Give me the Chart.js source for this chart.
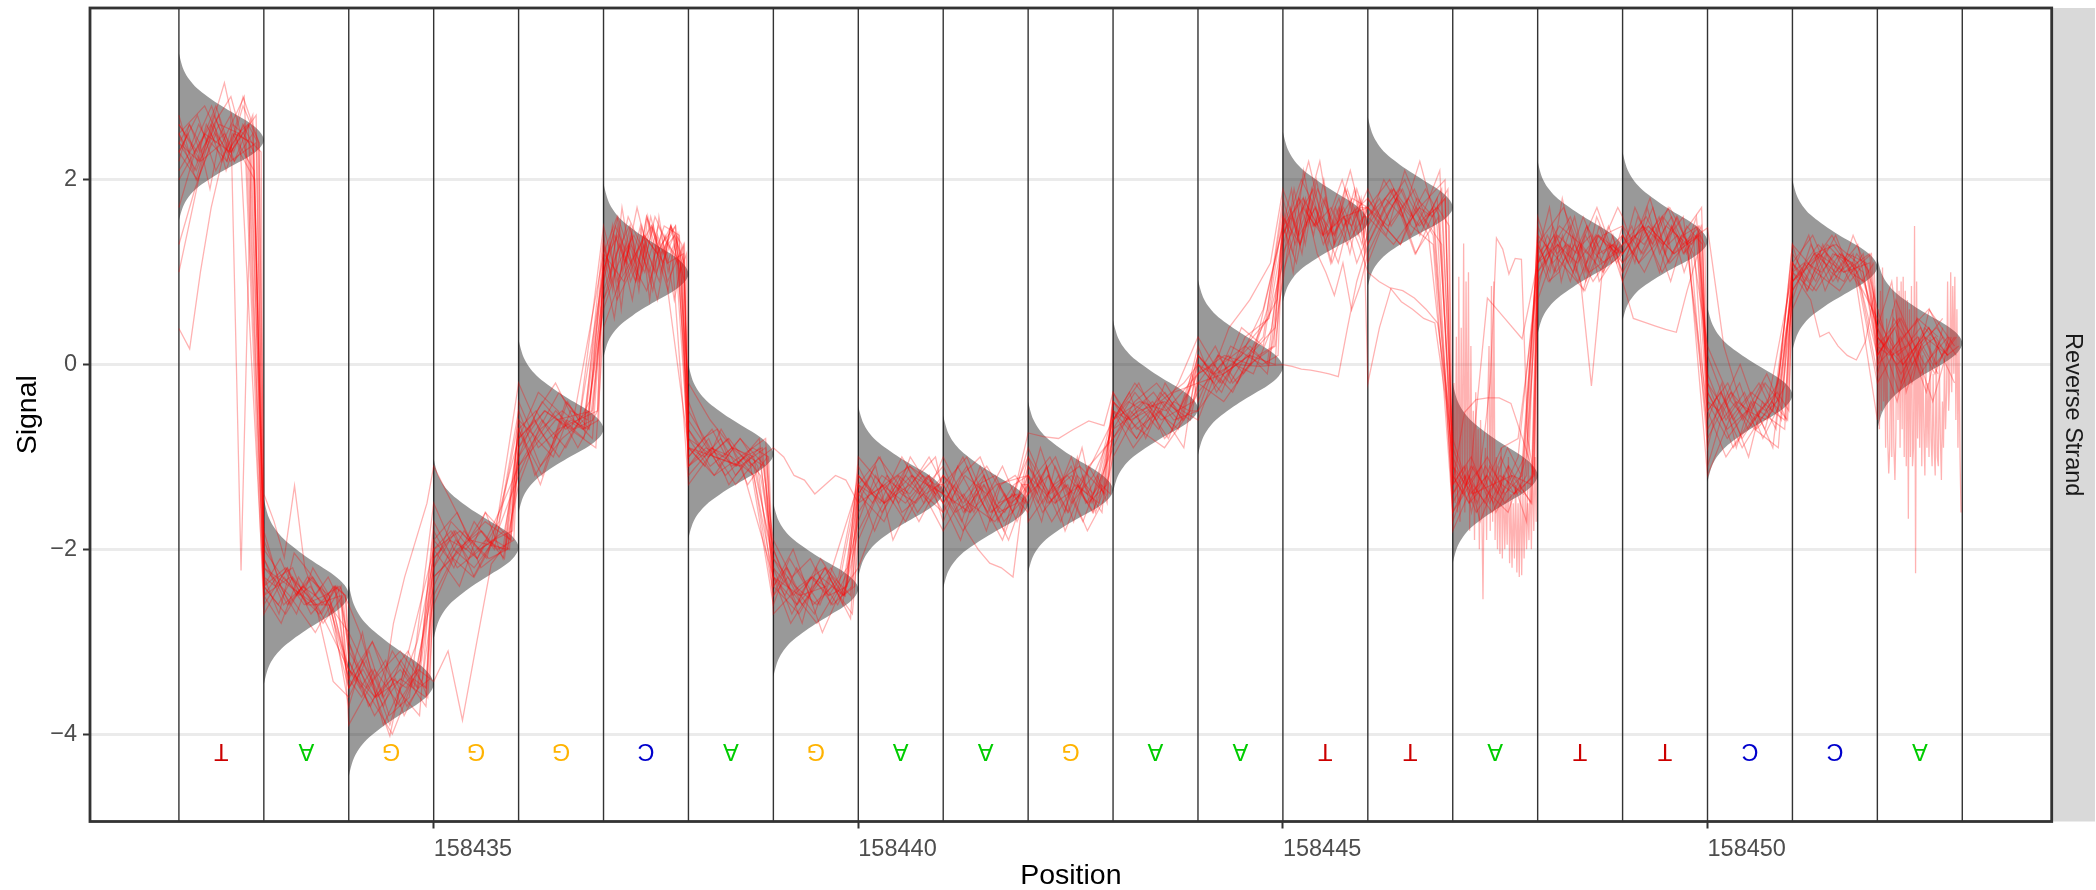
<!DOCTYPE html>
<html>
<head>
<meta charset="utf-8">
<script src="https://cdn.jsdelivr.net/npm/chart.js@4"></script>
<style>
  html, body { margin: 0; background: #fff; }
  canvas { display: block; }
</style>
</head>
<body>
<canvas id="signalChart" width="2096" height="890"></canvas>
<script>
const basePositions = [158432,158433,158434,158435,158436,158437,158438,158439,158440,158441,158442,158443,158444,158445,158446,158447,158448,158449,158450,158451,158452];
const baseLetters = ['T','A','G','G','G','C','A','G','A','A','G','A','A','T','T','A','T','T','C','C','A'];
const dividerPositions = [158432,158433,158434,158435,158436,158437,158438,158439,158440,158441,158442,158443,158444,158445,158446,158447,158448,158449,158450,158451,158452,158453];
const xTickValues = [158435,158440,158445,158450];
const yTickValues = [-4,-2,0,2];

// grey curve of each base: where it peaks and where its two tips end
const densityPeak = [2.43,-2.49,-3.46,-1.98,-0.7,0.98,-0.97,-2.43,-1.38,-1.51,-1.36,-0.48,-0.03,1.55,1.7,-1.2,1.25,1.33,-0.33,1.06,0.23];
const densityTop = [3.37,-1.45,-2.38,-1.02,0.27,1.96,0.0,-1.5,-0.45,-0.55,-0.4,0.48,0.92,2.52,2.68,-0.2,2.2,2.3,0.62,2.0,1.15];
const densityBottom = [1.56,-3.46,-4.46,-2.97,-1.6,0.08,-1.88,-3.38,-2.3,-2.42,-2.25,-1.38,-0.98,0.68,0.85,-2.15,0.33,0.48,-1.27,0.15,-0.7];
// width of the curve, going from the peak out to a tip in tenths
const densityWidths = [1,0.95,0.83,0.66,0.49,0.34,0.21,0.12,0.06,0.025,0];

// one row per read, one inner list per base
const read01 = [[2.0,2.5,2.3,2.7],[-2.2,-2.4,-2.6,-2.5],[-3.1,-3.6,-3.3,-3.7],[-2.3,-1.9,-2.0],[-1.1,-0.6,-0.5],[0.7,1.3,0.9,1.5,1.1,1.2],[-0.8,-1.0,-1.1,-0.9],[-2.1,-2.5,-2.3,-2.6,-2.4],[-1.5,-1.3,-1.1,-1.4],[-1.2,-1.5,-1.7,-1.4],[-1.1,-1.4,-1.2,-1.5,-1.3],[-0.7,-0.5,-0.4,-0.6],[-0.2,-0.1,0.1,0.0],[1.4,1.8,1.5,1.7,1.3,1.6],[1.6,1.9,1.5,1.8],[-1.1,-1.4,-1.3,-1.2,-1.5],[1.0,1.3,1.1,1.4,1.2],[1.3,1.5,1.2,1.4],[-0.3,-0.7,-0.5,-0.6,-0.2],[0.9,1.2,1.0,1.1],[0.3,0.0,0.2,0.4,0.1]];
const read02 = [[2.6,2.3,2.8,2.2,2.5],[-2.0,-2.3,-2.5,-2.7,-2.4],[-3.0,-3.5,-3.2,-3.8,-3.4],[-2.5,-2.0,-1.8,-2.1],[-0.9,-0.4,-0.7,-0.5],[0.9,1.5,0.6,1.4,0.8,1.6,1.0,1.3,0.7,1.2],[-0.6,-0.9,-1.2,-1.0,-0.9],[-2.2,-2.7,-2.3,-2.5,-2.2],[-1.1,-1.6,-1.2,-1.5],[-1.3,-1.7,-1.1,-1.6,-1.5],[-1.0,-1.5,-1.2,-1.7,-1.1,-1.4],[-0.4,-0.8,-0.3,-0.6],[-0.3,0.0,0.2,0.5],[1.1,1.9,1.3,2.0,1.4,1.7,1.2,1.8],[1.3,1.7,2.0,1.5,1.9],[-1.0,-1.6,-1.2,-1.4],[0.8,1.5,1.1,1.6,1.2,1.3],[1.0,1.6,1.3,1.7,1.2,1.4],[-0.1,-0.6,-0.3,-0.8,-0.4],[0.7,1.3,0.9,1.2,1.1],[0.6,-0.2,0.4,0.1]];
const read03 = [[0.39,0.17,1.0,1.7,2.2,2.5,2.3,2.1],[-1.9,-2.3,-2.2,-2.6,-2.4,-2.7],[-2.9,-3.3,-3.7,-3.2,-3.5],[-2.2,-1.7,-1.9,-1.6,-2.1],[-1.3,-0.8,-1.0,-0.5,-0.6],[1.1,0.5,1.3,0.9,1.6,1.2,0.8,1.4],[-0.4,-0.8,-0.7,-1.1,-1.0,-1.2],[-2.0,-2.4,-2.8,-2.2,-2.6,-2.3],[-1.7,-1.2,-1.5,-1.0,-1.3],[-1.6,-1.1,-1.4,-1.8,-1.3,-1.2],[-1.4,-0.9,-1.3,-1.6,-1.0,-1.5,-1.2],[-0.9,-0.5,-0.7,-0.2,-0.5],[-0.6,-0.1,-0.3,0.1,-0.1],[0.9,1.6,1.2,1.9,1.5,1.1,1.7,1.4,1.8],[1.1,1.5,1.8,1.4,1.7,2.1],[-0.8,-1.3,-1.1,-1.6,-1.3,-1.0],[1.4,0.9,1.2,1.6,1.0,1.5,1.1],[1.5,1.1,1.7,1.2,1.5,1.0,1.4],[-0.6,-0.2,-0.9,-0.4,-0.7,-0.1],[1.3,0.8,1.1,1.4,1.0,0.9],[0.4,0.9,-0.3,0.2,-0.1,0.3]];
const read04 = [[2.2,2.6,2.4,1.9,2.5,2.7,-2.23,2.3],[-2.4,-2.1,-2.5,-2.3,-2.6],[-3.4,-2.9,-3.6,-4.02,-3.3,-3.5],[-1.8,-2.2,-1.7,-2.0],[-0.6,-1.2,-0.9,-0.4,-0.7],[1.4,0.8,1.7,1.1,1.5,0.7,1.6,1.0,1.4],[-1.1,-0.8,-1.3,-1.0],[-2.6,-2.2,-2.5,-2.7,-2.3,-2.5],[-1.3,-1.8,-1.4,-1.1,-1.5],[-1.0,-1.3,-1.6,-1.2,-1.7,-1.4],[-1.6,-1.2,-1.0,-1.4,-1.7,-1.3],[-0.6,-0.3,-0.8,-0.4,-0.6],[0.0,-0.2,0.2,0.1,0.3],[1.7,1.2,2.1,1.5,1.8,1.3,1.9,1.6],[1.9,1.5,1.3,1.8,1.6],[-1.4,-1.1,-1.7,-1.3,-0.9,-1.2],[1.2,1.7,0.9,1.4,1.0,1.6,1.3],[1.1,1.4,1.8,1.3,1.6,1.2],[-0.9,-0.3,-0.6,-1.0,-0.4,-0.7],[1.0,1.4,0.8,1.2,1.0],[-0.1,0.5,0.2,-0.3,0.4]];
const read05 = [[1.3,1.9,2.4,2.2,2.8,2.4],[-1.4,-1.7,-2.09,-1.31,-2.2,-2.5,-2.6,-2.4,-2.5],[-3.0,-3.7,-3.4,-3.1,-3.6],[-2.6,-2.1,-2.3,-1.9,-1.8],[-0.8,-0.3,-0.5,-0.9,-0.5],[1.2,1.6,0.9,1.3,0.7,1.5,1.1],[-0.7,-1.0,-0.8,-1.3,-1.0],[-2.4,-2.0,-2.6,-2.4,-2.7],[-1.9,-1.4,-1.2,-1.6,-1.3],[-1.4,-1.0,-1.5,-1.9,-1.3],[-1.3,-1.7,-1.1,-1.4,-0.9,-1.6,-1.2],[-1.0,-0.6,-0.4,-0.7,-0.1],[-0.4,0.1,-0.2,0.3,0.7],[1.6,1.0,1.8,1.4,2.0,1.3,1.5,1.9,1.2],[1.5,2.0,1.7,1.2,1.6,1.9],[-1.7,-1.2,-1.5,-1.0,-1.4,-1.2],[0.7,1.2,1.5,0.9,1.3,1.7],[1.6,1.1,1.4,0.9,1.5,1.3],[-1.1,-0.5,-0.2,-0.7,-0.4,-0.6],[0.6,1.1,1.4,1.0,1.2],[0.2,-0.4,0.5,0.0,0.3]];
const read06 = [[2.7,2.1,2.5,3.05,2.3,2.0],[-2.3,-2.7,-2.04,-2.25,-2.5,-2.4],[-2.6,-2.9,-3.3,-3.6,-2.8,-2.3,-1.9,-1.5],[-1.1,-1.5,-1.9,-2.1,-2.0],[-1.0,-0.5,-0.2,-0.6,-0.8],[0.9,1.4,1.1,1.7,1.2,0.9,1.5,1.3],[-1.2,-0.9,-1.1,-0.8],[-1.9,-2.3,-2.1,-2.5,-2.4],[-1.0,-1.3,-1.7,-1.2],[-1.7,-1.2,-1.0,-1.5,-1.4],[-1.5,-1.1,-1.8,-1.3,-1.6],[-0.3,-0.7,-0.5,-0.8,-0.3],[0.2,-0.3,0.0,-0.1,0.4],[1.3,1.7,2.2,1.6,1.4,1.9,1.5],[1.7,1.4,2.1,1.6,1.3],[-1.3,-1.0,-1.5,-1.1,-1.7],[1.6,1.1,1.3,0.8,1.4,1.2],[0.9,1.3,1.7,1.1,1.4,1.5],[-0.5,-1.0,-0.7,-0.2,-0.6],[1.1,0.8,1.3,0.9,1.4,1.0],[0.0,0.7,0.2,-0.4,0.3]];
const read07 = [[2.5,2.0,2.7,2.3,2.6],[-2.5,-2.8,-2.3,-2.6,-3.43],[-3.6,-3.2,-3.9,-3.5,-3.3],[-3.43,-3.1,-3.85,-3.0,-2.16,-1.95],[-0.7,-1.3,-0.6,-0.8],[0.6,1.0,1.6,1.3,0.8,1.4,1.1],[-0.5,-0.9,-1.0,-1.2],[-2.3,-2.8,-2.5,-2.2,-2.6],[-1.4,-1.1,-1.9,-1.5,-1.2],[-1.5,-1.9,-1.3,-1.2,-1.6],[-1.2,-1.6,-1.4,-1.0,-1.5,-1.3],[-0.8,-0.4,-0.2,-0.5],[-0.1,0.2,-0.2,0.0,0.6],[1.8,1.3,1.7,2.2,1.4,1.6,1.1],[1.4,1.8,1.6,2.2,1.5],[-1.6,-1.3,-1.0,-1.4,-1.2],[1.3,1.0,1.8,1.2,1.5,0.9,1.1],[1.2,1.7,1.4,1.0,1.5,1.2,1.6],[0.1,-0.4,-0.8,-0.5,-0.3],[1.2,0.9,1.3,1.1,0.8],[0.1,0.4,-0.2,0.6,0.2]];
const read08 = [[1.0,1.6,2.2,2.6,2.1,2.5,2.4],[-1.8,-2.4,-2.7,-2.2,-2.5],[-3.7,-3.2,-3.5,-3.9,-3.4,-3.0],[-2.1,-1.8,-2.3,-1.9],[-1.2,-0.7,-0.3,-0.6],[1.0,1.5,1.2,0.9,1.6,1.1,1.4],[-0.9,-1.1,-0.7,-1.0,-1.2],[-2.5,-2.1,-2.4,-2.9,-2.5],[-2.2,-1.6,-1.2,-1.4],[-1.1,-1.6,-1.3,-1.8],[-0.9,-1.3,-1.7,-1.2,-1.4],[-0.5,-0.9,-0.6,-0.3],[-0.2,0.1,0.0,-0.02],[0.0,-0.02,-0.05,-0.06,-0.08,-0.1,-0.13,0.4,0.9],[1.3,1.7,1.9,1.5,1.7],[-1.2,-1.5,-1.1,-1.4,-1.0],[1.1,1.4,0.9,1.5,1.2],[1.4,1.1,1.3,1.6,1.2],[-0.7,-0.4,0.0,-0.5,-0.9],[0.9,1.1,1.3,1.0],[0.5,0.1,0.3,-0.1]];
const read09 = [[1.7,2.3,2.6,2.2,2.9,2.4],[-2.1,-2.6,-2.4,-2.8,-2.5],[-3.2,-3.8,-3.4,-3.6],[-2.0,-2.4,-1.6,-1.9],[-0.4,-0.9,-0.7,-0.6,-0.5],[1.3,0.7,1.0,1.4,1.2,1.5,0.9],[-0.9,-1.2,-0.8,-1.1],[-2.7,-2.4,-2.2,-2.5],[-1.2,-1.5,-1.3,-1.0],[-1.4,-1.8,-1.5,-1.1,-1.6],[-1.1,-1.5,-1.3,-1.8,-1.4],[-0.6,-0.2,-0.8,-0.5],[-0.5,-0.1,0.1,0.4],[1.5,1.1,1.8,1.3,1.6,2.1,1.5],[-0.2,0.4,0.83,0.8,0.72,0.6,0.45,-0.5],[-1.8,-1.3,-1.6,-1.2,-1.3],[1.0,1.4,1.2,1.7,1.1],[1.2,1.5,1.0,1.4,1.7],[-0.4,-0.8,-0.5,-0.1,-0.6],[1.0,0.85,0.7,0.3,0.35,0.2,0.1,0.05,0.25,0.8],[0.0,0.3,0.6,0.2]];
const read10 = [[2.3,2.7,2.1,2.5,2.4],[-2.6,-2.2,-2.7,-2.4],[-3.5,-3.0,-3.7,-3.3],[-1.7,-2.2,-2.0,-1.8],[-1.0,-0.6,-0.9,-0.4],[0.8,1.2,1.5,1.0,1.6,1.3,1.1],[-1.0,-0.7,-1.2,-0.9],[-2.3,-2.6,-2.1,-2.5],[-1.6,-1.2,-1.4,-1.0],[-1.3,-1.0,-1.6,-1.4],[-0.74,-0.78,-0.8,-0.7,-0.61,-0.66],[-0.3,-0.7,-0.5,-0.9],[0.1,-0.2,0.2,0.0],[1.2,1.6,1.9,1.4,1.7,1.3],[1.0,0.9,0.83,0.68,0.6,0.5,0.45,-0.4],[-1.5,-1.1,-1.4,-1.6,-1.0],[1.5,1.0,1.3,0.9,1.2],[1.3,1.6,1.1,1.4],[-0.8,-0.3,-0.6,-0.2],[1.3,1.0,0.8,1.2],[0.4,-0.1,0.3,0.1]];
const read11 = [[2.4,2.1,2.6,2.9,2.2],[-2.4,-2.7,-2.3,-2.5],[-3.3,-3.6,-4.0,-3.4],[-2.4,-1.9,-2.1,-1.7],[-0.5,-1.1,-0.8,-0.6],[1.1,1.4,0.7,1.6,1.2,1.5],[-0.7,-1.1,-0.9,-1.0],[-2.2,-2.5,-2.8,-2.4],[-1.3,-1.0,-1.6,-1.4],[-1.6,-1.2,-1.4,-1.9],[-1.3,-1.0,-1.5,-1.2],[-0.7,-0.3,-0.6,-0.2],[0.3,-0.1,0.1,0.6],[1.5,1.9,1.3,1.6,1.2,1.0,0.75,1.1,0.59,0.85],[1.2,1.6,1.9,1.4,1.8],[-0.9,-1.4,-1.2,-1.5,-1.3],[1.2,0.9,1.0,1.3,0.9,-0.23,1.0,1.4],[0.9,0.5,0.46,0.42,0.38,0.35,0.8,1.2],[-0.2,-0.5,-0.9,-0.6,-0.4],[0.8,1.2,1.0,1.3],[0.2,0.5,-0.1,0.3]];
const read12 = [[2.1,2.4,2.8,2.3,2.6],[-2.7,-2.3,-2.6,-2.5],[-3.5,-3.1,-3.8,-3.6],[-1.5,-2.0,-2.2,-1.9],[-0.2,-0.7,-1.0,-0.6],[1.5,0.9,1.3,1.0,1.5,1.2],[-1.3,-1.0,-0.8,-1.1],[-0.9,-1.0,-1.2,-1.25,-1.4,-1.3,-1.2,-1.25],[-1.5,-1.0,-1.3,-1.7],[-1.2,-1.5,-1.2,-1.7],[-1.4,-1.2,-1.6,-1.1],[-0.8,-0.5,-0.3,-0.6],[-0.5,-0.2,0.1,0.4,0.55,0.7,0.9,1.1],[1.9,1.4,1.7,1.1,1.6],[1.8,1.5,1.3,1.7,1.4],[-1.1,-1.5,-1.3,-0.9,-0.8],[0.9,1.3,1.6,1.1,1.4],[1.5,1.2,1.6,1.3],[1.48,0.2,-0.4,-0.7,-0.5],[1.1,1.4,0.9,1.2],[-0.2,0.2,0.5,0.3]];
const read13 = [[2.5,2.8,2.2,2.4],[-2.2,-2.5,-2.9,-2.4],[-3.9,-3.4,-3.1,-3.5],[-2.3,-2.0,-1.7,-1.9],[-0.9,-0.5,-0.7,-0.9],[0.4,0.9,1.2,1.5,0.9,1.3],[-0.8,-1.2,-1.0,-0.8],[-2.4,-2.7,-2.2,-2.75],[-1.4,-1.7,-1.1,-1.3],[-1.2,-1.5,-1.8,-2.0,-2.15,-2.2,-2.3,-1.3],[-1.7,-1.3,-1.1,-1.4],[-0.4,-0.7,-0.9,-0.5],[-0.2,-0.4,0.0,0.2],[1.0,1.7,1.4,2.0,1.3],[1.6,1.3,1.7,2.0],[-1.3,-0.52,-0.38,-0.36,-0.36,-0.42,-0.8,-1.2],[1.3,1.7,1.0,1.2],[1.0,1.5,1.2,1.5],[-0.2,-0.9,-0.5,-0.7],[0.9,1.3,1.0,1.2],[0.3,0.0,0.4,-0.2]];
const read14 = [[2.3,2.0,2.5,2.2,2.7],[-2.1,-2.6,-2.3,-2.7],[-3.4,-3.0,-3.5,-3.8],[-1.9,-1.6,-2.2,-2.0],[-0.7,-1.2,-0.4,-0.7],[0.7,1.1,1.4,1.0,1.5,1.4],[-1.1,-0.9,-1.3,-1.0],[-2.0,-2.6,-2.3,-2.5],[-1.8,-1.3,-1.5,-1.2],[-1.5,-1.1,-1.7,-1.3],[-1.2,-1.7,-1.3,-1.5],[-0.5,-0.8,-0.4,-0.2],[0.0,-0.3,0.3,0.5],[1.4,2.0,1.6,1.1,1.9],[1.5,1.9,1.2,1.6],[-1.0,-1.5,-1.2,-1.6,-1.3,-0.8,-0.2,1.37,1.25,0.98,1.15,1.14,-0.8,-1.2],[1.4,1.1,0.8,1.5],[1.1,1.4,1.7,1.2],[0.2,-0.4,-0.7,-0.9],[1.1,0.8,1.2,1.0],[0.1,0.5,0.0,0.3]];
const read15 = [[2.6,2.2,2.4,2.9],[-2.4,-2.2,-2.6,-2.6],[-3.3,-3.7,-3.1,-3.5],[-2.2,-1.8,-2.1,-1.6],[-1.1,-0.7,-0.5,-0.7],[1.0,1.6,1.1,0.8,1.3,1.5],[-0.2,-0.6,-0.9,-1.1],[-2.1,-2.4,-2.6,-2.3],[-1.2,-1.5,-1.0,-1.4],[-1.8,-1.4,-1.1,-1.5],[-1.0,-1.4,-1.2,-1.6],[-0.6,-0.2,-0.5,-0.7],[0.1,-0.2,0.4,0.2],[1.6,1.3,1.9,1.5,1.8],[1.7,2.0,1.5,1.3],[-1.6,-1.2,0.72,0.5,0.28],[1.1,1.5,1.3,1.0],[1.4,1.0,1.5,1.3],[-1.2,-0.6,-0.3,-0.5],[0.8,1.2,1.3,1.1],[0.4,-0.3,0.2,0.5]];
// this read stutters heavily on two of the A's
const read16 = [[2.4,2.2,2.6,2.5],[-2.5,-2.3,-2.6],[-3.3,-3.6,-3.4],[-2.0,-1.8,-2.1],[-0.8,-0.5,-0.7],[1.2,0.9,1.4,1.1],[-0.9,-1.0,-1.1],[-2.3,-2.5,-2.4],[-1.3,-1.5,-1.2],[-1.4,-1.6,-1.3],[-1.2,-1.5,-1.3],[-0.6,-0.4,-0.5],[-0.1,0.1,0.0],[1.5,1.8,1.4,1.6],[1.7,1.5,1.8,1.4],
  [-1.0,-0.2,-1.5,0.3,-1.6,0.95,-1.7,0.4,-1.4,1.31,-1.6,0.9,-1.3,1.0,-1.8,0.2,-1.5,-0.5,-1.9,-0.3,-1.6,-0.7,-2.0,-0.6,-1.5,-2.54,-1.2,-0.9,-1.9,-0.4,0.2,-1.8,0.85,-1.7,0.9,-1.9,-1.0,-2.0,-1.1,-2.05,-0.9,-2.1,-1.2,-2.0,-1.4,-1.95,-1.0,-2.15,-1.4,-2.2,-1.5,-2.1,-1.3,-2.25,-1.5,-2.3,-1.2,-2.28,-1.4,-2.1,-1.3,-2.0,-1.5,-1.9,-1.2,-2.0,-1.1,-1.8,-1.0,-1.7],
  [1.1,1.3,0.9,1.4],[1.2,1.5,1.3,1.6],[-0.5,-0.2,-0.7,-0.4],[1.0,0.8,1.2,1.1],
  [-0.6,0.6,-0.7,0.8,-0.5,1.05,-0.4,0.3,-0.9,0.5,-0.8,-1.18,-0.9,0.4,-1.0,0.6,-0.9,-1.25,-0.7,0.95,-0.6,0.8,-0.9,0.9,-0.7,0.95,-1.0,0.8,-1.1,0.7,-1.67,0.6,-1.0,0.85,-1.1,-0.9,1.5,-2.26,0.9,-0.8,0.3,-0.9,0.2,-1.1,0.1,-0.7,-1.2,0.0,-0.9,-0.2,-1.0,0.3,-0.8,-1.1,-0.1,-0.9,-1.2,0.2,-1.0,-1.1,0.0,-0.8,-1.25,-0.4,-0.9,0.1,-0.7,-0.3,0.9,-0.5,-0.2,1.0,-0.3,0.85,-0.1,0.95,-0.6,0.6,-0.9,0.3,-1.0,-1.6]];
// reads with more samples and a tighter wobble
const read17 = [[2.3,2.5,2.2,2.6,2.4,2.5,2.3,2.6,2.4,2.3],[-2.3,-2.4,-2.2,-2.5,-2.4,-2.6,-2.4,-2.5],[-3.2,-3.5,-3.3,-3.6,-3.4,-3.7,-3.5,-3.4],[-2.1,-1.9,-2.0,-1.8,-2.0,-1.9],[-0.8,-0.6,-0.9,-0.6,-0.7,-0.6],[1.2,0.9,1.4,1.0,1.3,1.1,1.5,1.2,1.0,1.4,1.1,1.3,1.0,1.2],[-0.9,-1.0,-0.8,-1.1,-0.9,-1.0],[-2.3,-2.5,-2.2,-2.4,-2.6,-2.3,-2.5,-2.4],[-1.2,-1.4,-1.3,-1.5,-1.2,-1.4,-1.3],[-1.3,-1.5,-1.4,-1.6,-1.3,-1.5,-1.6,-1.4,-1.5],[-1.2,-1.4,-1.1,-1.5,-1.3,-1.4,-1.2,-1.5,-1.3,-1.4],[-0.5,-0.6,-0.4,-0.6,-0.5,-0.4],[-0.1,0.0,-0.2,0.1,0.0,0.1],[1.5,1.7,1.4,1.8,1.5,1.6,1.3,1.7,1.5,1.6,1.4,1.7],[1.6,1.8,1.5,1.7,1.9,1.6,1.7,1.5],[-1.2,-1.4,-1.1,-1.3,-1.5,-1.2,-1.4,-1.3,-1.2],[1.2,1.3,1.0,1.4,1.1,1.3,1.2,1.4,1.0,1.3,1.2],[1.3,1.5,1.2,1.4,1.6,1.3,1.4,1.2,1.5,1.3],[-0.4,-0.5,-0.3,-0.6,-0.4,-0.5,-0.3,-0.5],[1.0,1.1,0.9,1.2,1.0,1.1,0.9,1.1],[0.2,0.1,0.3,0.0,0.2,0.3,0.1,0.2]];
const read18 = [[2.5,2.3,2.6,2.4,2.7,2.3,2.5,2.6,2.4],[-2.5,-2.3,-2.6,-2.4,-2.5,-2.3,-2.6],[-3.4,-3.6,-3.3,-3.5,-3.7,-3.4,-3.5],[-1.9,-2.1,-1.8,-2.0,-1.9,-2.0],[-0.6,-0.8,-0.5,-0.7,-0.6],[1.0,1.3,0.8,1.2,1.5,1.0,1.3,0.9,1.4,1.2,1.5,1.1,1.3],[-1.0,-0.8,-1.1,-0.9,-1.0,-1.1],[-2.4,-2.2,-2.5,-2.3,-2.4,-2.6,-2.3],[-1.4,-1.2,-1.5,-1.3,-1.4,-1.2,-1.4],[-1.5,-1.3,-1.6,-1.4,-1.6,-1.3,-1.5,-1.4],[-1.3,-1.5,-1.2,-1.4,-1.6,-1.3,-1.4,-1.2,-1.5],[-0.6,-0.4,-0.5,-0.7,-0.4,-0.5],[0.0,-0.1,0.1,-0.1,0.1,0.2],[1.6,1.4,1.8,1.5,1.7,1.4,1.6,1.8,1.5,1.7,1.4],[1.8,1.6,1.9,1.5,1.7,1.6,1.8],[-1.3,-1.1,-1.4,-1.2,-1.4,-1.1,-1.3,-1.5],[1.3,1.1,1.4,1.2,1.0,1.3,1.4,1.1,1.3,1.2],[1.4,1.2,1.5,1.3,1.6,1.2,1.4,1.3,1.5],[-0.5,-0.3,-0.6,-0.4,-0.2,-0.5,-0.6],[1.1,0.9,1.2,1.0,0.9,1.2,1.0],[0.1,0.3,0.0,0.2,0.4,0.1,0.3]];
const read19 = [[2.4,2.6,2.3,2.5,2.2,2.6,2.5,2.3],[-2.4,-2.6,-2.3,-2.5,-2.7,-2.4],[-3.5,-3.3,-3.6,-3.4,-3.5,-3.2],[-2.0,-1.8,-2.1,-1.9,-2.0],[-0.7,-0.5,-0.8,-0.6,-0.7],[1.3,1.0,1.5,1.1,1.4,0.9,1.2,1.5,1.0,1.3,1.4,1.1],[-1.1,-0.9,-1.0,-0.8,-1.1],[-2.5,-2.3,-2.6,-2.4,-2.2,-2.5],[-1.3,-1.5,-1.2,-1.4,-1.5,-1.3],[-1.4,-1.6,-1.5,-1.3,-1.6,-1.4,-1.7],[-1.4,-1.2,-1.5,-1.3,-1.1,-1.4,-1.6,-1.3],[-0.4,-0.6,-0.5,-0.3,-0.6],[0.1,-0.1,0.0,0.2,0.0],[1.4,1.6,1.3,1.7,1.5,1.8,1.4,1.6,1.5,1.7],[1.7,1.5,1.8,1.6,1.9,1.6],[-1.4,-1.2,-1.5,-1.1,-1.3,-1.4,-1.2],[1.1,1.4,1.2,1.3,1.0,1.4,1.2,1.1,1.3],[1.2,1.4,1.3,1.5,1.2,1.6,1.3,1.4],[-0.3,-0.6,-0.4,-0.5,-0.2,-0.4],[0.9,1.1,1.0,1.2,0.9,1.1],[0.3,0.1,0.2,0.4,0.0,0.2]];
const allReads = [read01,read02,read03,read04,read05,read06,read07,read08,read09,read10,read11,read12,read13,read14,read15,read16,read17,read18,read19];

const letterColors = { A: '#00CC00', C: '#0000CC', G: '#FFB300', T: '#CC0000' };
const fontFamily = '"Liberation Sans", Arial, sans-serif';

// samples sit evenly inside a base; how close the last one gets to the next base differs per read
function traceData(read, r) {
    const gap = 0.3 + (r % 4) * 0.3;
    const points = [];
    read.forEach((samples, b) => {
        samples.forEach((y, k) => {
            points.push({ x: basePositions[b] + k / (samples.length - 1 + gap), y: y });
        });
    });
    return points;
}

function densityData(b) {
    const points = [];
    for (let t = densityWidths.length - 1; t >= 0; t--) {
        const reach = (densityTop[b] - densityPeak[b]) * t / (densityWidths.length - 1);
        points.push({ x: basePositions[b] + densityWidths[t], y: densityPeak[b] + reach });
    }
    for (let t = 1; t < densityWidths.length; t++) {
        const reach = (densityPeak[b] - densityBottom[b]) * t / (densityWidths.length - 1);
        points.push({ x: basePositions[b] + densityWidths[t], y: densityPeak[b] - reach });
    }
    return points;
}

const datasets = [];
allReads.forEach((read, r) => {
    datasets.push({
        data: traceData(read, r),
        borderColor: 'rgba(255,0,0,0.3)',
        borderWidth: 1.3,
        pointRadius: 0,
        showLine: true,
        fill: false,
        order: 0
    });
});
basePositions.forEach((pos, b) => {
    datasets.push({
        data: densityData(b),
        borderWidth: 0,
        backgroundColor: 'rgba(0,0,0,0.4)',
        pointRadius: 0,
        showLine: true,
        tension: 0.35,
        fill: 'shape',
        order: 1
    });
});
dividerPositions.forEach(pos => {
    datasets.push({
        data: [{ x: pos, y: -4.946 }, { x: pos, y: 3.86 }],
        borderColor: '#333333',
        borderWidth: 1.4,
        pointRadius: 0,
        showLine: true,
        fill: false,
        order: 2
    });
});

// base letters under the curves, panel border and the strand strip
const panelExtras = {
    id: 'panelExtras',
    afterDatasetsDraw(chart) {
        const ctx = chart.ctx;
        ctx.save();
        ctx.font = '23.5px ' + fontFamily;
        ctx.textAlign = 'center';
        ctx.textBaseline = 'middle';
        baseLetters.forEach((letter, b) => {
            ctx.save();
            ctx.translate(chart.scales.x.getPixelForValue(basePositions[b] + 0.5), chart.scales.y.getPixelForValue(-4.18));
            ctx.rotate(Math.PI);
            ctx.fillStyle = letterColors[letter];
            ctx.fillText(letter, 0, 0);
            ctx.restore();
        });
        ctx.restore();
    },
    afterDraw(chart) {
        const ctx = chart.ctx;
        const area = chart.chartArea;
        ctx.save();
        ctx.fillStyle = '#D9D9D9';
        ctx.fillRect(area.right, area.top, 2095 - area.right, area.bottom - area.top);
        ctx.strokeStyle = '#333333';
        ctx.lineWidth = 2.8;
        ctx.strokeRect(area.left, area.top, area.right - area.left, area.bottom - area.top);
        ctx.translate(2072, (area.top + area.bottom) / 2);
        ctx.rotate(Math.PI / 2);
        ctx.fillStyle = '#1A1A1A';
        ctx.font = '23.5px ' + fontFamily;
        ctx.textAlign = 'center';
        ctx.textBaseline = 'middle';
        ctx.fillText('Reverse Strand', 0, 0);
        ctx.restore();
    }
};

function noScalePadding(axis) {
    axis.paddingTop = 0;
    axis.paddingBottom = 0;
    axis.paddingLeft = 0;
    axis.paddingRight = 0;
}

document.addEventListener('DOMContentLoaded', function() {
    const ctx = document.getElementById('signalChart').getContext('2d');
    new Chart(ctx, {
        type: 'line',
        data: { datasets: datasets },
        plugins: [panelExtras],
        options: {
            responsive: false,
            devicePixelRatio: 1,
            animation: false,
            layout: { padding: { left: 0, top: 8, right: 44.3, bottom: 0 } },
            plugins: { legend: { display: false }, tooltip: { enabled: false } },
            scales: {
                x: {
                    type: 'linear',
                    min: 158430.953,
                    max: 158454.053,
                    afterBuildTicks: axis => { axis.ticks = xTickValues.map(v => ({ value: v })); },
                    afterFit: axis => { axis.height = 68.5; noScalePadding(axis); },
                    border: { display: false },
                    grid: { drawOnChartArea: false, tickColor: '#333333', tickLength: 7, tickWidth: 2 },
                    ticks: {
                        align: 'start',
                        autoSkip: false,
                        maxRotation: 0,
                        padding: 7,
                        color: '#4D4D4D',
                        font: { size: 23.5, family: fontFamily },
                        callback: v => String(v)
                    },
                    title: {
                        display: true,
                        text: 'Position',
                        color: '#000000',
                        padding: { top: 0, bottom: 0 },
                        font: { size: 28.5, family: fontFamily, lineHeight: 1.0 }
                    }
                },
                y: {
                    min: -4.946,
                    max: 3.86,
                    afterBuildTicks: axis => { axis.ticks = yTickValues.map(v => ({ value: v })); },
                    afterFit: axis => { axis.width = 90; noScalePadding(axis); },
                    border: { display: false },
                    grid: { color: '#EBEBEB', lineWidth: 3, tickColor: '#333333', tickLength: 7, tickWidth: 2 },
                    ticks: {
                        padding: 6,
                        color: '#4D4D4D',
                        font: { size: 23.5, family: fontFamily },
                        callback: v => String(v).replace('-', '\u2212')
                    },
                    title: {
                        display: true,
                        text: 'Signal',
                        color: '#000000',
                        padding: { top: 11, bottom: 0 },
                        font: { size: 28.5, family: fontFamily }
                    }
                }
            }
        }
    });
});
</script>
</body>
</html>
